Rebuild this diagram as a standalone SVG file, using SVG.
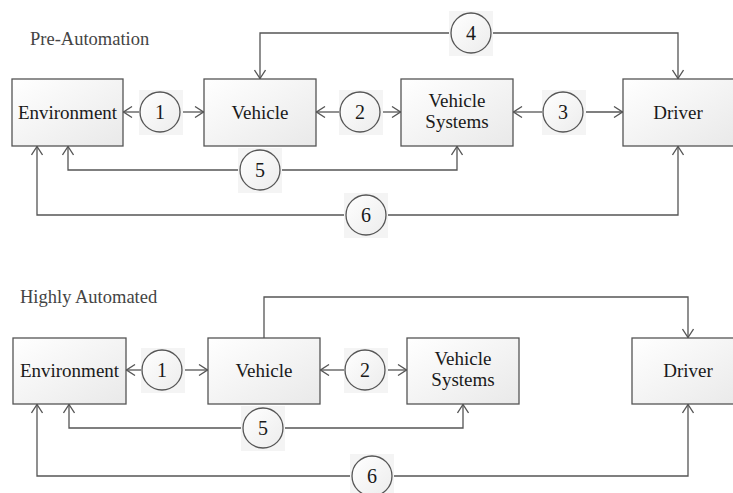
<svg xmlns="http://www.w3.org/2000/svg" width="733" height="493" viewBox="0 0 733 493">
<defs>
<linearGradient id="boxg" x1="0" y1="0" x2="1" y2="1">
<stop offset="0" stop-color="#ffffff"/>
<stop offset="1" stop-color="#e9e9e9"/>
</linearGradient>
<linearGradient id="cg" x1="0" y1="0" x2="1" y2="1">
<stop offset="0" stop-color="#ffffff"/>
<stop offset="1" stop-color="#ececec"/>
</linearGradient>
<marker id="arr" viewBox="0 0 10 12" refX="10" refY="6" markerWidth="10" markerHeight="12" markerUnits="userSpaceOnUse" orient="auto">
<path d="M1,0.5 L9.5,6 L1,11.5" fill="none" stroke="#555" stroke-width="1.3"/>
</marker>
</defs>
<style>
.box{fill:url(#boxg);stroke:#555;stroke-width:1.3}
.lbl{font-family:"Liberation Serif",serif;font-size:19px;fill:#1a1a1a;text-anchor:middle}
.ttl{font-family:"Liberation Serif",serif;font-size:18.5px;fill:#444}
.bg{fill:#f4f4f4}
.cir{fill:url(#cg);stroke:#555;stroke-width:1.3}
.num{font-family:"Liberation Serif",serif;font-size:20px;fill:#1a1a1a;text-anchor:middle}
.ln{fill:none;stroke:#555;stroke-width:1.3}
</style>
<rect width="733" height="493" fill="#fff"/>

<text class="ttl" x="30" y="45">Pre-Automation</text>
<text class="ttl" x="20" y="303">Highly Automated</text>

<g id="connectors">
<path class="ln" d="M140,112 H123" marker-end="url(#arr)"/>
<path class="ln" d="M180,112 H204" marker-end="url(#arr)"/>
<path class="ln" d="M340,112 H316" marker-end="url(#arr)"/>
<path class="ln" d="M380,112 H401" marker-end="url(#arr)"/>
<path class="ln" d="M542,112 H513" marker-end="url(#arr)"/>
<path class="ln" d="M583,112 H623" marker-end="url(#arr)"/>
<path class="ln" d="M451,33 H260 V79" marker-end="url(#arr)"/>
<path class="ln" d="M491,33 H678 V79" marker-end="url(#arr)"/>
<path class="ln" d="M240,170 H68 V146" marker-end="url(#arr)"/>
<path class="ln" d="M280,170 H457 V146" marker-end="url(#arr)"/>
<path class="ln" d="M346,215 H37 V146" marker-end="url(#arr)"/>
<path class="ln" d="M386,215 H678 V146" marker-end="url(#arr)"/>
<path class="ln" d="M142,370 H126" marker-end="url(#arr)"/>
<path class="ln" d="M182,370 H208" marker-end="url(#arr)"/>
<path class="ln" d="M345,370 H320" marker-end="url(#arr)"/>
<path class="ln" d="M385,370 H407" marker-end="url(#arr)"/>
<path class="ln" d="M264,338 V297 H688 V338" marker-end="url(#arr)"/>
<path class="ln" d="M243,428 H69 V404" marker-end="url(#arr)"/>
<path class="ln" d="M283,428 H463 V404" marker-end="url(#arr)"/>
<path class="ln" d="M352,476 H37 V404" marker-end="url(#arr)"/>
<path class="ln" d="M392,476 H688 V404" marker-end="url(#arr)"/>
</g>

<g id="env1"><rect class="box" x="12" y="79" width="111" height="67"/><text class="lbl" x="67.5" y="118.5">Environment</text></g>
<g id="veh1"><rect class="box" x="204" y="79" width="112" height="67"/><text class="lbl" x="260" y="118.5">Vehicle</text></g>
<g id="vs1"><rect class="box" x="401" y="79" width="112" height="67"/><text class="lbl" x="457" y="107">Vehicle</text><text class="lbl" x="457" y="128">Systems</text></g>
<g id="drv1"><rect class="box" x="623" y="79" width="112" height="67"/><text class="lbl" x="678" y="118.5">Driver</text></g>

<g id="c1a"><rect class="bg" x="139" y="90" width="44" height="45"/><circle class="cir" cx="160" cy="112" r="20"/><text class="num" x="160" y="119">1</text></g>
<g id="c2a"><rect class="bg" x="339" y="90" width="44" height="45"/><circle class="cir" cx="360" cy="112" r="20"/><text class="num" x="360" y="119">2</text></g>
<g id="c3a"><rect class="bg" x="542" y="90" width="44" height="45"/><circle class="cir" cx="563" cy="112" r="20"/><text class="num" x="563" y="119">3</text></g>
<g id="c4a"><rect class="bg" x="449" y="11" width="44" height="45"/><circle class="cir" cx="471" cy="33" r="20"/><text class="num" x="471" y="40">4</text></g>
<g id="c5a"><rect class="bg" x="238" y="148" width="44" height="45"/><circle class="cir" cx="260" cy="170" r="20"/><text class="num" x="260" y="177">5</text></g>
<g id="c6a"><rect class="bg" x="344" y="193" width="44" height="45"/><circle class="cir" cx="366" cy="215" r="20"/><text class="num" x="366" y="222">6</text></g>

<g id="env2"><rect class="box" x="13" y="338" width="113" height="66"/><text class="lbl" x="69.5" y="377">Environment</text></g>
<g id="veh2"><rect class="box" x="208" y="338" width="112" height="66"/><text class="lbl" x="264" y="377">Vehicle</text></g>
<g id="vs2"><rect class="box" x="407" y="338" width="112" height="66"/><text class="lbl" x="463" y="365">Vehicle</text><text class="lbl" x="463" y="386">Systems</text></g>
<g id="drv2"><rect class="box" x="632" y="338" width="112" height="66"/><text class="lbl" x="688" y="377">Driver</text></g>

<g id="c1b"><rect class="bg" x="141" y="348" width="44" height="45"/><circle class="cir" cx="162" cy="370" r="20"/><text class="num" x="162" y="377">1</text></g>
<g id="c2b"><rect class="bg" x="344" y="348" width="44" height="45"/><circle class="cir" cx="365" cy="370" r="20"/><text class="num" x="365" y="377">2</text></g>
<g id="c5b"><rect class="bg" x="241" y="406" width="44" height="45"/><circle class="cir" cx="263" cy="428" r="20"/><text class="num" x="263" y="435">5</text></g>
<g id="c6b"><rect class="bg" x="350" y="454" width="44" height="45"/><circle class="cir" cx="372" cy="476" r="20"/><text class="num" x="372" y="483">6</text></g>
</svg>
